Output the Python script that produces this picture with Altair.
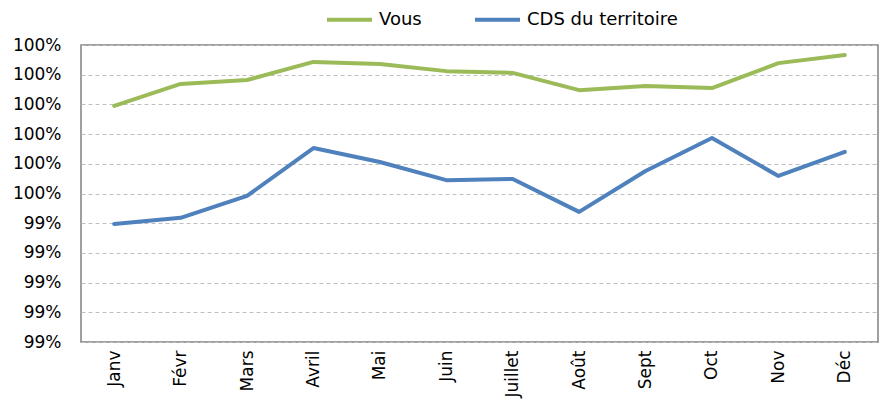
import altair as alt
import pandas as pd

months = ["Janv", "Févr", "Mars", "Avril", "Mai", "Juin", "Juillet", "Août", "Sept", "Oct", "Nov", "Déc"]
vous = [99.795, 99.869, 99.882, 99.943, 99.936, 99.912, 99.906, 99.848, 99.862, 99.855, 99.939, 99.966]
cds = [99.397, 99.418, 99.492, 99.653, 99.606, 99.545, 99.549, 99.438, 99.576, 99.687, 99.559, 99.640]
series_names = ["Vous", "CDS du territoire"]
series_colors = ["#9BBB59", "#4F81BD"]
y_ticks = [99.0, 99.1, 99.2, 99.3, 99.4, 99.5, 99.6, 99.7, 99.8, 99.9, 100.0]

rows = []
for name, vals in zip(series_names, [vous, cds]):
    for m, v in zip(months, vals):
        rows.append({"Mois": m, "Valeur": v, "Série": name})
df = pd.DataFrame(rows)

FONT = "DejaVu Sans"

chart = alt.Chart(df).mark_line(strokeWidth=4, strokeCap="round", strokeJoin="round").encode(
    x=alt.X("Mois:N", sort=months, title=None,
            scale=alt.Scale(paddingInner=0, paddingOuter=0.5),
            axis=alt.Axis(labelAngle=-90, ticks=False, domain=False, labelPadding=8,
                          labelFont=FONT, labelFontSize=17, labelColor="#000000",
                          labelAlign="right", labelBaseline="middle")),
    y=alt.Y("Valeur:Q", title=None,
            scale=alt.Scale(domain=[99.0, 100.0], nice=False, zero=False),
            axis=alt.Axis(values=y_ticks, labelExpr="round(datum.value) + '%'",
                          ticks=False, domain=False, labelPadding=20,
                          labelFont=FONT, labelFontSize=17, labelColor="#000000",
                          grid=True, gridDash=[4, 3], gridColor="#BFBFBF", gridWidth=1)),
    color=alt.Color("Série:N", sort=series_names,
                    scale=alt.Scale(domain=series_names, range=series_colors),
                    legend=alt.Legend(title=None, orient="none", direction="horizontal",
                                      legendX=244, legendY=-50,
                                      symbolType="stroke", symbolSize=2025, symbolStrokeWidth=4,
                                      labelFont=FONT, labelFontSize=18, labelColor="#000000",
                                      labelOffset=5, columnPadding=45)),
).properties(
    width=797, height=297,
    padding={"left": 73, "top": 37, "right": 1, "bottom": 57},
    autosize=alt.AutoSizeParams(type="none"),
).configure_view(
    stroke="#808080", strokeWidth=1.5
)

chart.save("out.html", embed_options={"renderer": "svg", "actions": False})
